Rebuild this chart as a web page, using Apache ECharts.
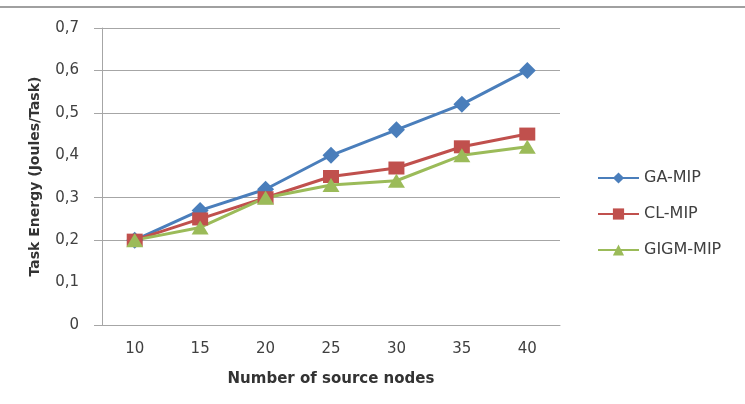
<!DOCTYPE html>
<html>
<head>
<meta charset="utf-8">
<script src="https://cdn.jsdelivr.net/npm/echarts@6/dist/echarts.min.js"></script>
<style>html,body{margin:0;padding:0;background:#fff}#c{width:745px;height:404px}</style>
</head>
<body>
<div id="c"></div>
<script>
var categories = ['10', '15', '20', '25', '30', '35', '40'];
var gaMip = [0.20, 0.27, 0.32, 0.40, 0.46, 0.52, 0.60];
var clMip = [0.20, 0.25, 0.30, 0.35, 0.37, 0.42, 0.45];
var gigmMip = [0.20, 0.23, 0.30, 0.33, 0.34, 0.40, 0.42];
var seriesNames = ['GA-MIP', 'CL-MIP', 'GIGM-MIP'];
var yLabelValues = [0, 0.1, 0.2, 0.3, 0.4, 0.5, 0.6, 0.7];
var yGridValues = [0, 0.2, 0.3, 0.5, 0.6, 0.7];
var xTitle = 'Number of source nodes';
var yTitle = 'Task Energy (Joules/Task)';

var gridColor = '#a6a6a6';
var font = 'DejaVu Sans';
var chart = echarts.init(document.getElementById('c'));
function mk(name, data, color, symbol, size) {
  return {
    name: name, type: 'line', data: data,
    symbol: symbol, symbolSize: size,
    itemStyle: {color: color},
    lineStyle: {color: color, width: 3},
    emphasis: {disabled: true}
  };
}
chart.setOption({
  animation: false,
  textStyle: {fontFamily: font},
  graphic: [{
    type: 'line', shape: {x1: 0, y1: 7, x2: 745, y2: 7},
    style: {stroke: '#a0a0a0', lineWidth: 2}
  }],
  grid: {left: 102, right: 185, top: 28, bottom: 79},
  legend: {
    orient: 'vertical', left: 592, top: 165, itemGap: 20,
    itemWidth: 41, itemHeight: 14,
    textStyle: {fontFamily: font, fontSize: 16, color: '#404040'},
    data: seriesNames
  },
  xAxis: {
    type: 'category', data: categories, boundaryGap: true,
    name: xTitle, nameLocation: 'middle', nameGap: 47,
    nameTextStyle: {fontFamily: font, fontSize: 15, fontWeight: 'bold', color: '#333'},
    axisLine: {lineStyle: {color: gridColor, width: 1}},
    axisTick: {length: 6, lineStyle: {color: gridColor}},
    axisLabel: {margin: 17, fontSize: 15, color: '#404040', fontFamily: font}
  },
  yAxis: {
    type: 'value', min: 0, max: 0.7, interval: 0.1,
    name: yTitle, nameLocation: 'middle', nameGap: 60, nameRotate: 90,
    nameTextStyle: {fontFamily: font, fontSize: 14, fontWeight: 'bold', color: '#333'},
    axisLine: {show: true, lineStyle: {color: gridColor, width: 1}},
    axisTick: {show: true, length: 8, lineStyle: {color: gridColor}, customValues: yGridValues},
    axisLabel: {
      margin: 23, fontSize: 15, color: '#404040', fontFamily: font,
      customValues: yLabelValues,
      formatter: function (v) { return v === 0 ? '0' : v.toFixed(1).replace('.', ','); }
    },
    splitLine: {show: true, lineStyle: {color: gridColor, width: 1.2}}
  },
  series: [
    mk(seriesNames[0], gaMip, '#4a7ebb', 'diamond', [17, 17]),
    mk(seriesNames[1], clMip, '#c0504d', 'rect', [16, 13]),
    mk(seriesNames[2], gigmMip, '#9bbb59', 'triangle', [17, 14])
  ]
});
</script>
</body>
</html>
